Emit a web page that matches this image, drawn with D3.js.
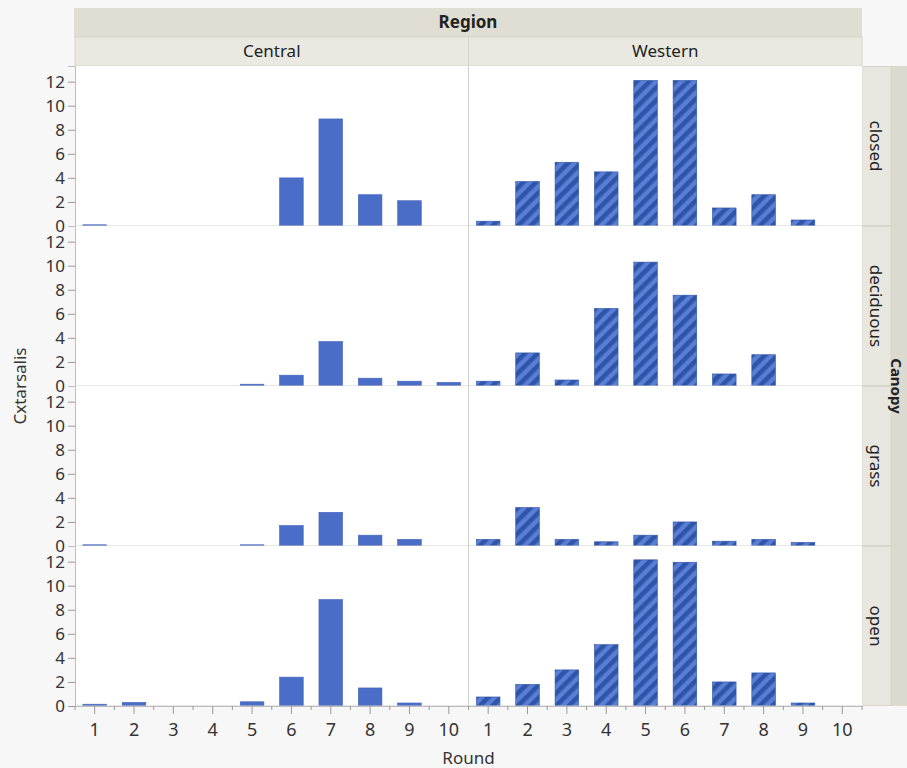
<!DOCTYPE html>
<html>
<head>
<meta charset="utf-8">
<script src="https://cdn.jsdelivr.net/npm/d3@7/dist/d3.min.js"></script>
<style>
  html, body { margin: 0; padding: 0; background: #f7f7f7; }
  svg { display: block; font-family: "Noto Sans", "Open Sans", sans-serif; }
</style>
</head>
<body>
<svg id="chart" width="907" height="768"></svg>
<script>
// ---------- data ----------
const rounds = [1, 2, 3, 4, 5, 6, 7, 8, 9, 10];
const regions = ["Central", "Western"];
const canopies = ["closed", "deciduous", "grass", "open"];
const yTicks = [0, 2, 4, 6, 8, 10, 12];

const centralClosed    = [0.1, null, null, null, null, 4.0, 8.9, 2.6, 2.1, null];
const westernClosed    = [0.4, 3.7, 5.3, 4.5, 12.1, 12.1, 1.5, 2.6, 0.5, null];
const centralDeciduous = [null, null, null, null, 0.15, 0.9, 3.7, 0.65, 0.4, 0.3];
const westernDeciduous = [0.4, 2.75, 0.5, 6.45, 10.3, 7.55, 1.0, 2.6, null, null];
const centralGrass     = [0.1, null, null, null, 0.1, 1.7, 2.8, 0.9, 0.55, null];
const westernGrass     = [0.55, 3.2, 0.55, 0.35, 0.9, 2.0, 0.4, 0.55, 0.3, null];
const centralOpen      = [0.15, 0.3, null, null, 0.35, 2.4, 8.85, 1.5, 0.25, null];
const westernOpen      = [0.75, 1.8, 3.0, 5.1, 12.15, 11.95, 2.0, 2.75, 0.25, null];

const panelValues = {
  closed:    { Central: centralClosed,    Western: westernClosed },
  deciduous: { Central: centralDeciduous, Western: westernDeciduous },
  grass:     { Central: centralGrass,     Western: westernGrass },
  open:      { Central: centralOpen,      Western: westernOpen }
};

// ---------- layout ----------
const svg = d3.select("#chart");
const W = 907, H = 768;
const leftX = 75, colW = 393.5;
const topY = 66, rowH = 160;
const stripX = 862;
const textCol = "#333";

svg.append("rect").attr("width", W).attr("height", H).attr("fill", "#f7f7f7");

// pattern for Western bars
const defs = svg.append("defs");
const pat = defs.append("pattern")
  .attr("id", "hatch").attr("patternUnits", "userSpaceOnUse")
  .attr("width", 9).attr("height", 9)
  .attr("patternTransform", "rotate(45)");
pat.append("rect").attr("width", 9).attr("height", 9).attr("fill", "#5a7ed6");
pat.append("rect").attr("width", 4.6).attr("height", 9).attr("fill", "#2f55a8");

// header strips
svg.append("rect").attr("x", 74).attr("y", 8).attr("width", stripX - 74).attr("height", 29)
  .attr("fill", "#e0ded3");
svg.append("text").attr("x", (74 + stripX) / 2).attr("y", 28)
  .attr("text-anchor", "middle").attr("font-size", 17).attr("font-weight", "bold")
  .attr("fill", "#222").text("Region");

const colX = d3.scaleBand().domain(regions).range([leftX, leftX + 2 * colW]);

regions.forEach(reg => {
  const x0 = colX(reg);
  svg.append("rect").attr("x", x0).attr("y", 37).attr("width", colW).attr("height", 29)
    .attr("fill", "#eae9e1").attr("stroke", "#d6d4ca").attr("stroke-width", 1);
  svg.append("text").attr("x", x0 + colW / 2).attr("y", 57)
    .attr("text-anchor", "middle").attr("font-size", 17).attr("fill", "#222").text(reg);
});

// right strips
const rowY = d3.scaleBand().domain(canopies).range([topY, topY + 4 * rowH]);
svg.append("rect").attr("x", 891).attr("y", topY).attr("width", W - 891).attr("height", 4 * rowH)
  .attr("fill", "#dcdacf");

canopies.forEach(c => {
  const y0 = rowY(c);
  svg.append("rect").attr("x", stripX).attr("y", y0 + 0.5).attr("width", 29).attr("height", rowH - 1)
    .attr("fill", "#e8e7df").attr("stroke", "#d8d6cc").attr("stroke-width", 1);
  svg.append("text")
    .attr("transform", `translate(870, ${y0 + rowH / 2}) rotate(90)`)
    .attr("text-anchor", "middle").attr("font-size", 17).attr("fill", "#222").text(c);
});

svg.append("text")
  .attr("transform", `translate(891, ${topY + 2 * rowH}) rotate(90)`)
  .attr("text-anchor", "middle").attr("font-size", 15).attr("font-weight", "bold")
  .attr("fill", "#222").text("Canopy");

// panels
const y = d3.scaleLinear().domain([0, 13.3]).range([rowH, 0]);

canopies.forEach(c => {
  const y0 = rowY(c);
  regions.forEach(reg => {
    const x0 = colX(reg);
    const x = d3.scaleBand().domain(rounds).range([x0, x0 + colW])
      .paddingInner(0.4).paddingOuter(0.2);
    const g = svg.append("g").attr("transform", `translate(0, ${y0})`);
    g.append("rect").attr("x", x0).attr("y", 0).attr("width", colW).attr("height", rowH)
      .attr("fill", "#ffffff");
    const vals = panelValues[c][reg];
    const data = rounds.map((r, i) => ({ r, v: vals[i] })).filter(d => d.v !== null);
    g.selectAll("rect.bar").data(data).join("rect")
      .attr("class", "bar")
      .attr("x", d => x(d.r))
      .attr("width", x.bandwidth())
      .attr("y", d => y(d.v))
      .attr("height", d => y(0) - y(d.v))
      .attr("fill", reg === "Western" ? "url(#hatch)" : "#4a6dc8")
      .attr("stroke", reg === "Western" ? "#2f55a8" : "#4163bd")
      .attr("stroke-width", 0.6);
    // zero line
    g.append("line").attr("x1", x0).attr("x2", x0 + colW)
      .attr("y1", y(0)).attr("y2", y(0)).attr("stroke", "#cfcfcf");
  });
  // column divider
  svg.append("line").attr("x1", colX("Western")).attr("x2", colX("Western"))
    .attr("y1", y0).attr("y2", y0 + rowH).attr("stroke", "#d0d0d0");

  // y axis
  const ay = svg.append("g").attr("transform", `translate(${leftX}, ${y0})`)
    .call(d3.axisLeft(y).tickValues(yTicks).tickSize(7).tickPadding(3));
  ay.select(".domain").attr("stroke", "#bdbdbd");
  ay.selectAll(".tick line").attr("stroke", "#9a9a9a");
  ay.selectAll(".tick text").attr("font-size", 17).attr("fill", textCol)
    .attr("font-family", "\"Noto Sans\", sans-serif");
});

// x axes
const axisY = topY + 4 * rowH;
regions.forEach(reg => {
  const x0 = colX(reg);
  const x = d3.scaleBand().domain(rounds).range([x0, x0 + colW])
    .paddingInner(0.4).paddingOuter(0.2);
  const ax = svg.append("g").attr("transform", `translate(0, ${axisY})`)
    .call(d3.axisBottom(x).tickSize(8).tickPadding(9).tickSizeOuter(0));
  ax.select(".domain").attr("stroke", "#bdbdbd");
  ax.selectAll(".tick line").attr("stroke", "#9a9a9a");
  ax.selectAll(".tick text").attr("font-size", 18).attr("fill", textCol)
    .attr("font-family", "\"Noto Sans\", sans-serif");
  // minor ticks at band boundaries
  const half = (x.step() - x.bandwidth()) / 2;
  const minor = rounds.map(r => x(r) - half).concat([x(rounds[rounds.length - 1]) + x.bandwidth() + half]);
  ax.selectAll("line.minor").data(minor).join("line")
    .attr("class", "minor")
    .attr("x1", d => d).attr("x2", d => d).attr("y1", 0).attr("y2", 4)
    .attr("stroke", "#9a9a9a");
});

// axis titles
svg.append("text").attr("x", (leftX + leftX + 2 * colW) / 2).attr("y", 764)
  .attr("text-anchor", "middle").attr("font-size", 17).attr("fill", textCol).text("Round");
svg.append("text")
  .attr("transform", `translate(26, ${topY + 2 * rowH}) rotate(-90)`)
  .attr("text-anchor", "middle").attr("font-size", 17).attr("fill", textCol).text("Cxtarsalis");
</script>
</body>
</html>
